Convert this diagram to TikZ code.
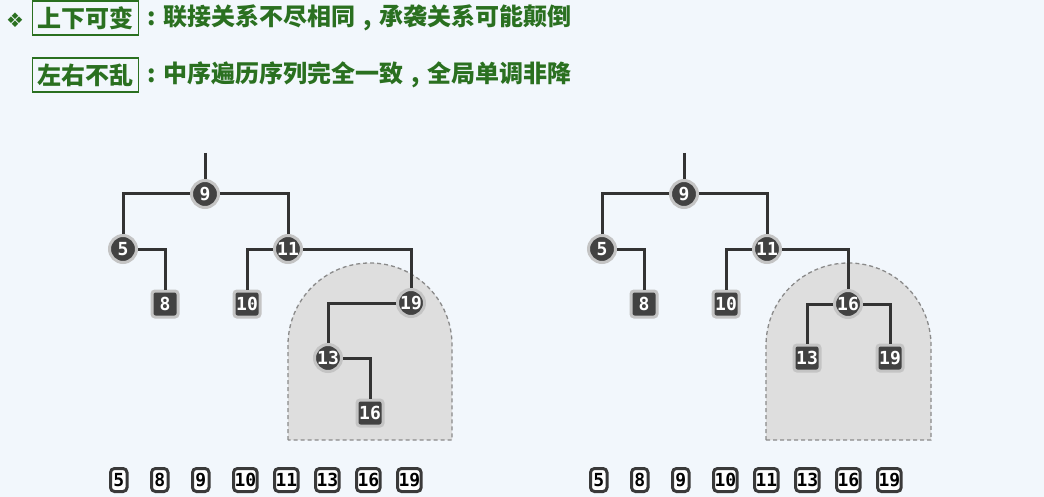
\documentclass[tikz,border=0pt]{standalone}
\usepackage{fontspec}
\newfontfamily\cjkfnt{Noto Sans CJK SC}
\newfontfamily\monofnt{DejaVu Sans Mono}
\newfontfamily\djvfnt{DejaVu Sans}
\newcommand\nodefnt{\monofnt\bfseries\fontsize{18}{18}\selectfont}
\newcommand\hfnt{\cjkfnt\bfseries\fontsize{24}{24}\selectfont}
\newcommand\cpunct[1]{\makebox[1em][c]{#1}}
\definecolor{bgc}{HTML}{F2F7FC}
\definecolor{grn}{HTML}{2A7020}
\definecolor{nd}{HTML}{424242}
\definecolor{ring}{HTML}{C4C4C4}
\definecolor{ed}{HTML}{333333}
\definecolor{rg}{HTML}{DEDEDE}
\definecolor{rgb}{HTML}{8A8A8A}
\definecolor{bx}{HTML}{3A3A3A}
\tikzset{
  cn/.style={circle, fill=nd, draw=ring, line width=3pt, minimum size=27pt, inner sep=0pt, text=white, font=\nodefnt},
  sn/.style={rectangle, rounded corners=3pt, fill=nd, draw=ring, line width=3pt, minimum size=26pt, inner sep=0pt, text=white, font=\nodefnt},
  sq/.style={rectangle, draw=bx, fill=white, line width=3pt, rounded corners=4pt, minimum height=23pt, minimum width=16.5pt, inner xsep=1pt, inner ysep=0pt, font=\nodefnt, text=black, anchor=west},
  treeedge/.style={draw=ed, line width=3pt},
  regionshape/.style={fill=rg, draw=rgb, dash pattern=on 4pt off 3pt, line width=1.3pt},
  hbox/.style={draw=grn, line width=1.2pt, text=grn, font=\hfnt, minimum height=34pt, inner xsep=5pt, inner ysep=0pt},
  htext/.style={text=grn, font=\hfnt, inner sep=0pt}
}
\begin{document}
\begin{tikzpicture}[x=1pt,y=1pt]
\fill[bgc] (0,0) rectangle (1044,-497);
\useasboundingbox (0,0) rectangle (1044,-497);

% header
\node[text=grn, font=\djvfnt\fontsize{20}{20}\selectfont, inner sep=0pt] (dia) at (15,-20) {❖};
\node[hbox, anchor=west] (b1) at (32,-18) {上下可变};
\node[htext, anchor=west] (t1) at (b1.east) {\cpunct{:}联接关系不尽相同\cpunct{,}承袭关系可能颠倒};
\node[hbox, anchor=west] (b2) at (32,-75) {左右不乱};
\node[htext, anchor=west] (t2) at (b2.east) {\cpunct{:}中序遍历序列完全一致\cpunct{,}全局单调非降};

% regions (behind everything)
\path[regionshape] (288,-440) -- (288,-345) arc[start angle=180, end angle=0, radius=82] -- (452,-440) -- cycle;
\path[regionshape] (766,-440) -- (766,-345.5) arc[start angle=180, end angle=0, radius=82.5] -- (931,-440) -- cycle;

% left tree
\node[cn] (L9) at (205,-194) {9};
\node[cn] (L5) at (123,-249) {5};
\node[cn] (L11) at (288,-249) {11};
\node[sn] (L8) at (165,-304) {8};
\node[sn] (L10) at (247,-304) {10};
\node[cn] (L19) at (411,-303) {19};
\node[cn] (L13) at (328,-358) {13};
\node[sn] (L16) at (370,-413) {16};
\coordinate (Ltop) at (205,-153);

% right tree
\node[cn] (R9) at (684,-194) {9};
\node[cn] (R5) at (602,-249) {5};
\node[cn] (R11) at (767,-249) {11};
\node[sn] (R8) at (644,-304) {8};
\node[sn] (R10) at (726,-304) {10};
\node[cn] (R16) at (848,-304) {16};
\node[sn] (R13) at (807,-358) {13};
\node[sn] (R19) at (890,-358) {19};
\coordinate (Rtop) at (684,-153);

% connectors (clipped at node borders)
\draw[treeedge] (Ltop) -- (L9);
\draw[treeedge] (L9) -| (L5);
\draw[treeedge] (L9) -| (L11);
\draw[treeedge] (L5) -| (L8);
\draw[treeedge] (L11) -| (L10);
\draw[treeedge] (L11) -| (L19);
\draw[treeedge] (L19) -| (L13);
\draw[treeedge] (L13) -| (L16);
\draw[treeedge] (Rtop) -- (R9);
\draw[treeedge] (R9) -| (R5);
\draw[treeedge] (R9) -| (R11);
\draw[treeedge] (R5) -| (R8);
\draw[treeedge] (R11) -| (R10);
\draw[treeedge] (R11) -| (R16);
\draw[treeedge] (R16) -| (R13);
\draw[treeedge] (R16) -| (R19);

% in-order sequences
\foreach \v [count=\i from 0] in {5,8,9,10,11,13,16,19} {
  \node[sq] (sl\i) at ({109+41*\i},-480) {\v};
  \node[sq] (sr\i) at ({589+41*\i},-480) {\v};
}
\end{tikzpicture}
\end{document}
